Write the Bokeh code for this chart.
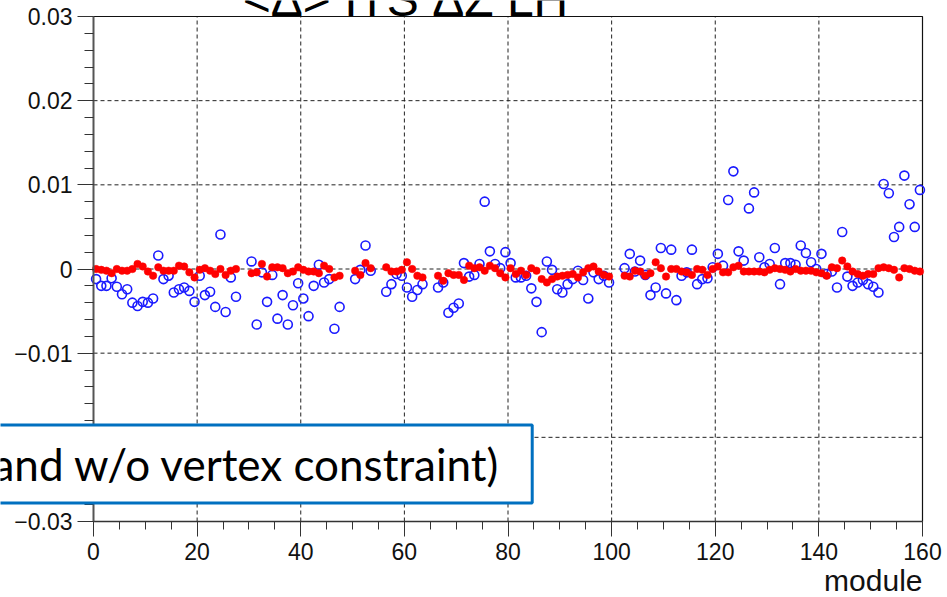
from bokeh.plotting import figure
from bokeh.models import ColumnDataSource, FixedTicker, Label, Range1d
from bokeh.embed import file_html
from bokeh.resources import INLINE

nan = float("nan")

# Module index (bin centres of the 0..160 histogram)
module_center = [m + 0.5 for m in range(160)]

# <Δ> per module, fit without vertex constraint (open blue markers)
delta_no_vtx = [
    -0.0012, -0.0020, -0.0020, -0.0011, -0.0021, -0.0030, -0.0024, -0.0040, -0.0044, -0.0039,
    -0.0040, -0.0035, 0.0016, -0.0012, -0.0008, -0.0028, -0.0024, -0.0022, -0.0026, -0.0039,
    -0.0008, -0.0031, -0.0027, -0.0045, 0.0041, -0.0051, -0.0010, -0.0033, nan, nan,
    0.0009, -0.0066, -0.0004, -0.0039, -0.0007, -0.0059, -0.0031, -0.0066, -0.0043, -0.0017,
    -0.0035, -0.0056, -0.0020, 0.0005, -0.0016, -0.0012, -0.0071, -0.0045, nan, nan,
    -0.0012, -0.0001, 0.0028, -0.0002, nan, nan, -0.0027, -0.0018, -0.0006, -0.0008,
    -0.0022, -0.0033, -0.0025, -0.0018, nan, nan, -0.0022, -0.0016, -0.0052, -0.0046,
    -0.0041, 0.0007, -0.0009, -0.0007, 0.0006, 0.0080, 0.0021, 0.0006, 0.0001, 0.0020,
    0.0007, -0.0010, -0.0010, -0.0008, -0.0023, -0.0039, -0.0075, 0.0009, -0.0001, -0.0024,
    -0.0028, -0.0018, -0.0012, -0.0002, -0.0013, -0.0035, -0.0004, -0.0012, -0.0008, -0.0016,
    nan, nan, 0.0001, 0.0018, -0.0003, 0.0010, -0.0007, -0.0031, -0.0022, 0.0025,
    -0.0029, 0.0023, -0.0037, -0.0008, -0.0004, 0.0023, -0.0018, -0.0012, -0.0011, 0.0002,
    0.0018, 0.0004, 0.0082, 0.0116, 0.0021, 0.0010, 0.0072, 0.0091, 0.0014, 0.0002,
    0.0006, 0.0025, -0.0018, 0.0007, 0.0007, 0.0005, 0.0028, 0.0019, 0.0008, 0.0000,
    0.0018, -0.0006, -0.0003, -0.0022, 0.0044, -0.0009, -0.0020, -0.0016, -0.0013, -0.0018,
    -0.0021, -0.0028, 0.0101, 0.0090, 0.0038, 0.0050, 0.0111, 0.0077, 0.0050, 0.0094,
]

# <Δ> per module, fit with vertex constraint (filled red markers)
delta_vtx = [
    0.0000, -0.0001, -0.0002, -0.0005, 0.0000, -0.0002, -0.0002, 0.0000, 0.0006, 0.0003,
    -0.0003, -0.0008, 0.0002, -0.0002, -0.0002, -0.0002, 0.0004, 0.0003, -0.0004, -0.0010,
    -0.0001, 0.0001, -0.0002, -0.0006, 0.0000, -0.0007, -0.0002, 0.0000, nan, nan,
    -0.0005, -0.0004, 0.0006, -0.0009, 0.0002, 0.0002, 0.0001, -0.0005, -0.0003, 0.0002,
    -0.0001, -0.0003, -0.0003, -0.0005, 0.0004, 0.0000, -0.0010, -0.0008, nan, nan,
    -0.0002, -0.0007, 0.0007, 0.0001, nan, nan, 0.0002, -0.0003, -0.0003, -0.0001,
    0.0008, 0.0000, -0.0008, -0.0010, nan, nan, -0.0008, -0.0014, -0.0005, -0.0007,
    -0.0007, -0.0013, 0.0004, 0.0001, 0.0002, -0.0002, 0.0004, 0.0001, -0.0005, -0.0010,
    0.0001, -0.0006, -0.0002, -0.0007, 0.0001, -0.0002, -0.0012, -0.0016, -0.0012, -0.0009,
    -0.0008, -0.0007, -0.0006, -0.0010, -0.0004, 0.0001, 0.0003, -0.0003, -0.0007, -0.0009,
    nan, nan, -0.0008, -0.0009, -0.0002, -0.0003, -0.0008, -0.0005, 0.0008, 0.0001,
    -0.0009, 0.0000, 0.0000, -0.0003, -0.0004, -0.0007, 0.0000, -0.0001, -0.0007, 0.0000,
    0.0003, -0.0004, -0.0004, 0.0002, 0.0004, -0.0003, -0.0003, -0.0003, -0.0003, -0.0004,
    -0.0001, 0.0001, 0.0000, -0.0001, -0.0003, 0.0000, -0.0002, -0.0002, -0.0002, -0.0004,
    -0.0005, -0.0008, 0.0002, 0.0001, 0.0010, 0.0003, -0.0003, -0.0006, -0.0008, -0.0006,
    -0.0006, 0.0001, 0.0002, 0.0001, -0.0001, -0.0010, 0.0001, 0.0000, -0.0002, -0.0003,
]

x_ticks = [0, 20, 40, 60, 80, 100, 120, 140, 160]
x_tick_labels = ["0", "20", "40", "60", "80", "100", "120", "140", "160"]
y_ticks = [-0.03, -0.02, -0.01, 0, 0.01, 0.02, 0.03]
y_tick_labels = ["\u22120.03", "\u22120.02", "\u22120.01", "0", "0.01", "0.02", "0.03"]

title_text = "<\u0394> ITS \u0394Z LH"
note_text = "and w/o vertex constraint)"
x_title = "module"

# histogram frame limits
x_lo, x_hi = 0, 160
y_lo, y_hi = -0.03, 0.03

# canvas geometry: the data frame sits inside a 947x597 page, with margins
W, H = 947, 597
M_LEFT, M_RIGHT, M_TOP, M_BOTTOM = 93, 25, 16, 76
px_per_x = (W - M_LEFT - M_RIGHT) / (x_hi - x_lo)
px_per_y = (H - M_TOP - M_BOTTOM) / (y_hi - y_lo)


def sx(px):
    """screen x (pixels from the left) -> data x"""
    return x_lo + (px - M_LEFT) / px_per_x


def sy(py):
    """screen y (pixels from the top) -> data y"""
    return y_hi - (py - M_TOP) / px_per_y


# the plotting area covers the whole page so that text boxes may overlap
# the axis margins; the axes are pinned at the frame edges
p = figure(
    width=W, height=H,
    output_backend="svg", toolbar_location=None,
    x_range=Range1d(sx(0), sx(W)), y_range=Range1d(sy(H), sy(0)),
    min_border=0,
    background_fill_color="white", border_fill_color="white",
)
p.outline_line_color = None
p.grid.visible = False

# x axis
p.xaxis.fixed_location = y_lo
p.xaxis.bounds = (x_lo, x_hi)
p.xaxis.ticker = FixedTicker(ticks=x_ticks, minor_ticks=list(range(0, 161, 5)))
p.xaxis.major_label_overrides = dict(zip(x_ticks, x_tick_labels))
p.xaxis.major_tick_in = 0
p.xaxis.major_tick_out = 15
p.xaxis.minor_tick_in = 0
p.xaxis.minor_tick_out = 8
p.xaxis.axis_line_color = "#333333"
p.xaxis.axis_line_width = 1.5
p.xaxis.major_tick_line_color = "#333333"
p.xaxis.minor_tick_line_color = "#333333"
p.xaxis.major_label_text_font = "Liberation Sans"
p.xaxis.major_label_text_font_size = "23px"
p.xaxis.major_label_text_color = "#111111"
p.xaxis.major_label_standoff = 6

# y axis
minor_y = [round(-0.03 + 0.002 * i, 4) for i in range(31)]
p.yaxis.fixed_location = x_lo
p.yaxis.bounds = (y_lo, y_hi)
p.yaxis.ticker = FixedTicker(ticks=y_ticks, minor_ticks=minor_y)
p.yaxis.major_label_overrides = dict(zip(y_ticks, y_tick_labels))
p.yaxis.major_tick_in = 0
p.yaxis.major_tick_out = 16
p.yaxis.minor_tick_in = 0
p.yaxis.minor_tick_out = 9
p.yaxis.axis_line_color = "#555555"
p.yaxis.axis_line_width = 2
p.yaxis.major_tick_line_color = "#333333"
p.yaxis.minor_tick_line_color = "#333333"
p.yaxis.major_label_text_font = "Liberation Sans"
p.yaxis.major_label_text_font_size = "23px"
p.yaxis.major_label_text_color = "#111111"
p.yaxis.major_label_standoff = 5

# dashed grid on the inner major ticks, limited to the frame
gx = [t for t in x_ticks if x_lo < t < x_hi]
gy = [t for t in y_ticks if y_lo < t < y_hi]
grid_style = dict(line_color="#222222", line_dash="4 3", line_width=1)
p.segment(x0=gx, y0=[y_lo] * len(gx), x1=gx, y1=[y_hi] * len(gx), **grid_style)
p.segment(x0=[x_lo] * len(gy), y0=gy, x1=[x_hi] * len(gy), y1=gy, **grid_style)

# top and right edges of the frame
p.line(x=[x_lo, x_hi, x_hi], y=[y_hi, y_hi, y_lo], line_color="#111111", line_width=1.2)

src = ColumnDataSource(dict(module=module_center, no_vtx=delta_no_vtx, vtx=delta_vtx))

p.scatter("module", "no_vtx", source=src, marker="circle", size=9,
          fill_color=None, line_color="#1a1aff", line_width=1.6)
p.scatter("module", "vtx", source=src, marker="circle", size=7.5,
          fill_color="#ff0000", line_color="#ff0000", line_width=0.5)

# histogram title, running off the top of the page
p.add_layout(Label(
    x=sx(405), y=sy(25), text=title_text, text_align="center", text_baseline="bottom",
    text_font="Liberation Sans", text_font_size="48px", text_color="black", level="overlay",
))

# x-axis title, right aligned at the axis end
p.add_layout(Label(
    x=x_hi, y=sy(596), text=x_title, text_align="right", text_baseline="bottom",
    text_font="Liberation Sans", text_font_size="30px", text_color="#111111",
))

# boxed note drawn over the lower left corner
p.add_layout(Label(
    x=sx(-20), y=sy(463.5), text=note_text, text_align="left", text_baseline="middle",
    text_font="Lato", text_font_size="44px", text_color="black",
    background_fill_color="white", border_line_color="#0070C0", border_line_width=3,
    padding=dict(top=13, right=32, bottom=13, left=12), level="overlay",
))

open("out.html", "w").write(file_html(p, INLINE))
